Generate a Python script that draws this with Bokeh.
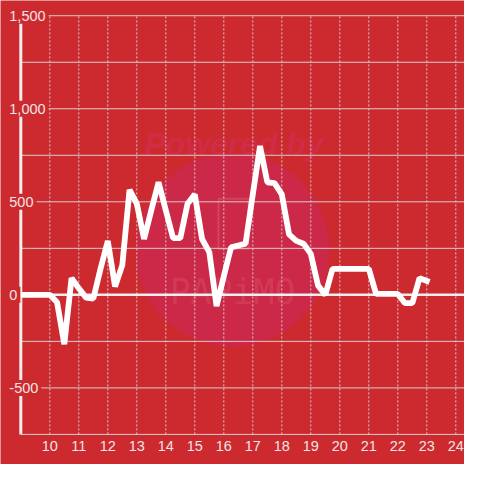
from bokeh.plotting import figure
from bokeh.models import Range1d
from bokeh.embed import file_html
from bokeh.resources import INLINE
from bokeh.core.properties import value

# ---------------- data ----------------
x_week = [9.0, 9.25, 9.5, 9.75, 10.0, 10.25, 10.5, 10.75, 11.0, 11.25, 11.5, 11.75,
          12.0, 12.25, 12.5, 12.75, 13.0, 13.25, 13.5, 13.75, 14.0, 14.25, 14.5, 14.75,
          15.0, 15.25, 15.5, 15.75, 16.0, 16.25, 16.5, 16.75, 17.0, 17.25, 17.5, 17.75,
          18.0, 18.25, 18.5, 18.75, 19.0, 19.25, 19.5, 19.75, 20.0, 20.25, 20.5, 20.75,
          21.0, 21.25, 21.5, 21.75, 22.0, 22.25, 22.5, 22.75, 23.0]
y_vals = [0, 0, 0, 0, 0, -40, -265, 90, 35, -15, -20, 140,
          290, 45, 160, 565, 490, 300, 455, 605, 455, 305, 305, 490,
          540, 300, 230, -60, 100, 255, 265, 275, 540, 800, 605, 600,
          540, 325, 290, 275, 220, 50, 0, 140, 140, 140, 140, 140,
          140, 5, 5, 5, 5, -45, -45, 90, 75]

x_ticks = [10, 11, 12, 13, 14, 15, 16, 17, 18, 19, 20, 21, 22, 23, 24]
x_tick_labels = ["10", "11", "12", "13", "14", "15", "16", "17", "18", "19",
                 "20", "21", "22", "23", "24"]
y_ticks = [-500, 0, 500, 1000, 1500]
y_tick_labels = ["-500", "0", "500", "1,000", "1,500"]
y_grid = [-750, -500, -250, 250, 500, 750, 1000, 1250, 1500]

# ---------------- layout / style ----------------
S = 464 / 480.0
W = H = 464
BG = "#cc2a2f"
CIRCLE = "#cc2848"
GRID = "#d8cccc"
AXIS = "#eeeeee"
LABEL = "#f0e4e4"
FONT = value("Liberation Sans")

X_START, X_END = 8.3, 24.3
Y_START, Y_END = (304.5 - 480) / 0.1925, 304.5 / 0.1925
AXIS_X = 9.0
Y_MIN, Y_MAX = -750, 1500


def ref_x(px):
    return X_START + px / 30.0


def ref_y(py):
    return (304.5 - py) / 0.1925


p = figure(width=W, height=H,
           x_range=Range1d(X_START, X_END), y_range=Range1d(Y_START, Y_END),
           output_backend="svg", toolbar_location=None,
           x_axis_location=None, y_axis_location=None,
           min_border=0, background_fill_color=BG, border_fill_color=BG,
           outline_line_color=None)
p.grid.visible = False

# watermark
p.circle(x=[ref_x(240)], y=[ref_y(258)], radius=100 / 30.0,
         fill_color=CIRCLE, line_color=None)
p.text(x=[ref_x(241.5)], y=[ref_y(148)], text=["Powered by"],
       text_font=FONT, text_font_style="bold italic",
       text_font_size=f"{33 * S:.1f}px", text_color="#d02c46",
       text_align="center", text_baseline="alphabetic")
p.rect(x=[ref_x(241)], y=[ref_y(231)], width=31 / 30.0, height=52 / 0.1925,
       fill_color=None, line_color="#e06a78", line_alpha=0.4, line_width=2)
p.text(x=[ref_x(240)], y=[ref_y(302)], text=["PAPiMO"],
       text_font=value("DejaVu Sans Mono"),
       text_font_size=f"{36 * S:.1f}px", text_color="#e06a78", text_alpha=0.3,
       text_align="center", text_baseline="alphabetic")

# grid lines
p.segment(x0=[AXIS_X] * len(y_grid), y0=y_grid, x1=[X_END] * len(y_grid), y1=y_grid,
          line_color=GRID, line_width=1)
p.segment(x0=x_ticks, y0=[Y_MIN] * len(x_ticks), x1=x_ticks, y1=[Y_MAX] * len(x_ticks),
          line_color=GRID, line_width=1, line_dash="2 2")
p.segment(x0=[AXIS_X], y0=[0], x1=[X_END], y1=[0], line_color=AXIS, line_width=2.5)
p.segment(x0=[AXIS_X], y0=[Y_MIN], x1=[AXIS_X], y1=[Y_MAX], line_color=AXIS, line_width=3)

# data line
p.line(x=x_week, y=y_vals, line_color="white", line_width=6 * S,
       line_cap="square", line_join="bevel")

# tick labels
p.text(x=[ref_x(6)] * len(y_ticks), y=y_ticks, text=y_tick_labels,
       text_font=FONT, text_font_size=f"{15 * S:.1f}px", text_color=LABEL,
       text_align="left", text_baseline="middle",
       background_fill_color=BG, padding=3)
p.text(x=x_ticks, y=[ref_y(461)] * len(x_ticks), text=x_tick_labels,
       text_font=FONT, text_font_size=f"{15 * S:.1f}px", text_color=LABEL,
       text_align="center", text_baseline="middle")

open("out.html", "w").write(file_html(p, INLINE))
